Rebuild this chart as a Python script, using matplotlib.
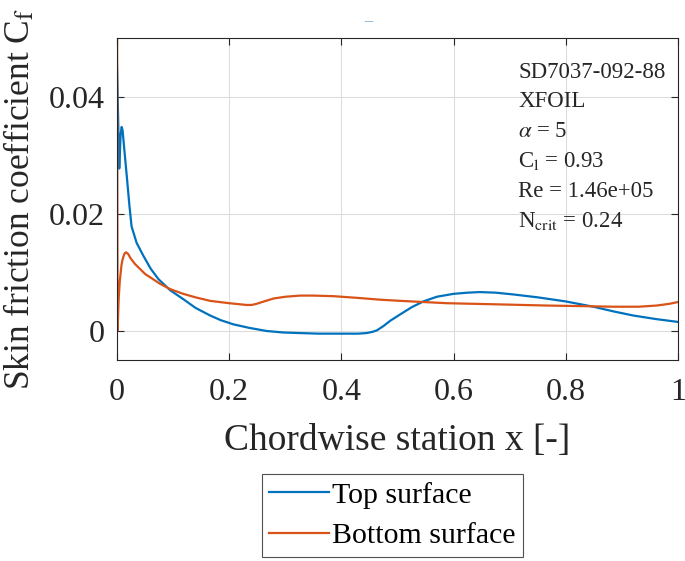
import matplotlib
matplotlib.use("Agg")
import matplotlib.pyplot as plt
import numpy as np

plt.rcParams['font.family'] = ['Liberation Serif', 'DejaVu Serif']
plt.rcParams['mathtext.fontset'] = 'stix'

# Top surface
top_x = [0.0, 0.004, 0.0065, 0.0083, 0.010, 0.013, 0.018, 0.022, 0.026, 0.035, 0.047,
         0.060, 0.074, 0.095, 0.118, 0.140, 0.166, 0.185, 0.207, 0.235, 0.267, 0.296,
         0.326, 0.360, 0.40, 0.430, 0.445, 0.455, 0.463, 0.475, 0.487, 0.505, 0.525,
         0.546, 0.570, 0.60, 0.625, 0.647, 0.675, 0.706, 0.75, 0.80, 0.849, 0.885,
         0.92, 0.96, 1.0]
top_cf = [0.045, 0.0277, 0.0335, 0.0348, 0.0342, 0.031, 0.0258, 0.0215, 0.0178, 0.0150,
          0.0128, 0.0106, 0.0088, 0.0069, 0.0054, 0.0039, 0.0026, 0.0018, 0.0011, 0.0005,
          -0.00005, -0.0003, -0.0004, -0.0005, -0.0005, -0.0005, -0.0004, -0.0002,
          0.00005, 0.0008, 0.0017, 0.0028, 0.0040, 0.0050, 0.0058, 0.0063, 0.0065,
          0.0066, 0.0065, 0.0062, 0.0057, 0.0050, 0.0041, 0.0033, 0.0026, 0.0020, 0.0015]

# Bottom surface
bot_x = [0.0, 0.001, 0.003, 0.005, 0.008, 0.010, 0.013, 0.016, 0.020, 0.024, 0.032,
         0.050, 0.077, 0.095, 0.118, 0.140, 0.166, 0.200, 0.231, 0.240, 0.249, 0.262,
         0.279, 0.300, 0.326, 0.350, 0.386, 0.430, 0.469, 0.505, 0.588, 0.680, 0.766,
         0.830, 0.885, 0.930, 0.962, 0.985, 1.0]
bot_cf = [0.06, 0.0, 0.0055, 0.0085, 0.0112, 0.0122, 0.0131, 0.0134, 0.0131, 0.0124,
          0.0114, 0.0097, 0.0080, 0.0071, 0.0063, 0.0057, 0.0051, 0.0047, 0.0044, 0.0044,
          0.0046, 0.0050, 0.0055, 0.0058, 0.0060, 0.0060, 0.0059, 0.0056, 0.0053, 0.0051,
          0.0047, 0.0045, 0.0043, 0.0042, 0.0041, 0.0041, 0.0043, 0.0046, 0.0049]

x_ticks = [0, 0.2, 0.4, 0.6, 0.8, 1.0]
x_ticklabels = ['0', '0.2', '0.4', '0.6', '0.8', '1']
y_ticks = [0, 0.02, 0.04]
y_ticklabels = ['0', '0.02', '0.04']

info_lines = ['SD7037-092-88', 'XFOIL', r'$\alpha$ = 5', r'C$_\mathrm{l}$ = 0.93',
              'Re = 1.46e+05', r'N$_\mathrm{crit}$ = 0.24']

fig = plt.figure(figsize=(6.85, 5.61), dpi=100)
ax = fig.add_axes([0.1708, 0.3583, 0.819, 0.574])

ax.plot(top_x, top_cf, color='#0072BD', lw=1.6, label='Top surface')
ax.plot(bot_x, bot_cf, color='#D95319', lw=1.6, label='Bottom surface')

ax.set_xlim(0, 1)
ax.set_ylim(-0.005, 0.05)
ax.set_xticks(x_ticks)
ax.set_xticklabels(x_ticklabels)
ax.set_yticks(y_ticks)
ax.set_yticklabels(y_ticklabels)
ax.grid(True, color='#dcdcdc', lw=0.8)
ax.set_axisbelow(True)
ax.tick_params(direction='in', top=True, right=True, labelsize=23, colors='#262626',
               length=5)
ax.tick_params(axis='x', pad=13)
ax.tick_params(axis='y', pad=9)
for s in ax.spines.values():
    s.set_color('#262626')
    s.set_linewidth(0.8)

ax.set_xlabel('Chordwise station x [-]', fontsize=27, color='#262626', labelpad=12)
ax.set_ylabel(r'Skin friction coefficient C$_\mathrm{f}$', fontsize=25.5, color='#262626',
              labelpad=8)

for i, t in enumerate(info_lines):
    ax.text(0.715, 0.894 - i * 0.0925, t, transform=ax.transAxes, fontsize=16.5,
            color='#262626', va='center', ha='left')

fig.text(0.537, 0.962, '\u2013', color='#7fb2de', fontsize=12, ha='center', va='center',
         fontweight='bold')

leg = fig.legend(loc='center', bbox_to_anchor=(0.573, 0.081), fontsize=21.5,
                 frameon=True, fancybox=False, edgecolor='#262626', handlelength=2.0,
                 handletextpad=0.1, borderpad=0.25, labelspacing=0.45, borderaxespad=0)
leg.get_frame().set_linewidth(0.8)

fig.savefig('out.png', dpi=100)
